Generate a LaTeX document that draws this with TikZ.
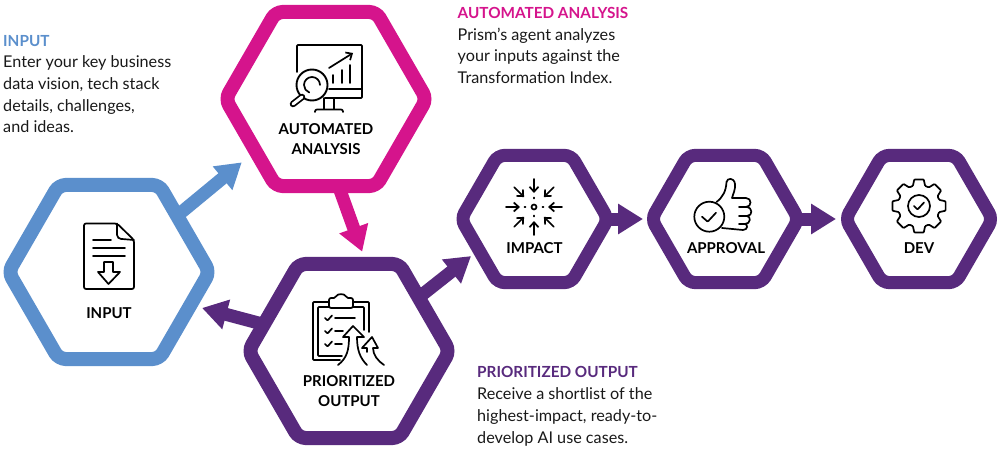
\documentclass[tikz,border=0pt]{standalone}
\usepackage{fontspec}
\setmainfont{Lato}
\usetikzlibrary{shapes.geometric,arrows.meta}
\definecolor{inblue}{HTML}{5B8FCC}
\definecolor{pinkish}{HTML}{D5148C}
\definecolor{grape}{HTML}{582A7D}
\tikzset{
	hexa/.style={regular polygon,regular polygon sides=6,draw,inner sep=0pt,outer sep=0pt,rounded corners=7pt},
	bighex/.style={hexa,line width=14pt,minimum size=201pt},
	smallhex/.style={hexa,line width=13pt,minimum size=147pt},
	flow/.style={line width=13pt,-{Triangle[length=25pt,width=29pt]}},
	hexlabel/.style={anchor=base,align=center,inner sep=0pt,font=\fontsize{15}{20}\selectfont\bfseries},
	note/.style={anchor=base west,align=left,inner sep=0pt,text=black!90,font=\fontsize{16.2}{21.7}\selectfont},
	icon/.style={line width=1.7pt,line cap=round,line join=round,rounded corners=0.8pt},
	barb/.style={icon,-{Straight Barb[length=5pt,width=9pt]}}
}
\newcommand{\notehead}[2]{{\fontsize{15.3}{21.7}\selectfont\bfseries\color{#1}#2}}
\begin{document}
\begin{tikzpicture}[x=1pt,y=-1pt]
	\useasboundingbox (0,0) rectangle (1000,449);

	\node[bighex,draw=inblue] (input) at (109,272) {};
	\node[bighex,draw=pinkish] (analysis) at (326,99) {};
	\node[bighex,draw=grape] (output) at (349,351) {};
	\node[smallhex,draw=grape] (impact) at (534.5,219) {};
	\node[smallhex,draw=grape] (approval) at (725,219) {};
	\node[smallhex,draw=grape] (dev) at (919,219) {};

	\draw[flow,inblue,shorten >=21pt] (input) -- ([shift={(-68,50)}]analysis.center);
	\draw[flow,pinkish,shorten >=13pt] ([xshift=12.5pt]analysis.south) -- ([xshift=17.6pt]output.north);
	\draw[flow,grape,shorten >=13.5pt] ([shift={(-83,-26)}]output.center) -- ([shift={(80,32.5)}]input.center);
	\draw[flow,grape,shorten >=11.4pt] ([shift={(69,-53)}]output.center) -- ([shift={(-54.5,30)}]impact.center);
	\draw[flow,grape,shorten >=8.5pt] (impact) -- (approval);
	\draw[flow,grape,shorten >=9.5pt] (approval) -- (dev);

	\node[hexlabel] (inputlabel) at (109,318) {INPUT};
	\node[hexlabel] (analysislabel) at (326,155) {AUTOMATED\\ANALYSIS};
	\node[hexlabel] (outputlabel) at (349,406) {PRIORITIZED\\OUTPUT};
	\node[hexlabel] (impactlabel) at (534.5,253) {IMPACT};
	\node[hexlabel] (approvallabel) at (726,253) {APPROVAL};
	\node[hexlabel] (devlabel) at (919,253) {DEV};

	\node[note] (inputnote) at (3,133) {\notehead{inblue}{INPUT}\\Enter your key business\\data vision, tech stack\\details, challenges,\\and ideas.};
	\node[note] (analysisnote) at (457.5,83.5) {\notehead{pinkish}{AUTOMATED ANALYSIS}\\Prism’s agent analyzes\\your inputs against the\\Transformation Index.};
	\node[note] (outputnote) at (477,443) {\notehead{grape}{PRIORITIZED OUTPUT}\\Receive a shortlist of the\\highest-impact, ready-to-\\develop AI use cases.};

	% document icon
	\draw[icon,rounded corners=2pt] (117,223.5) -- (84,223.5) -- (84,289) -- (134,289) -- (134,240) -- cycle;
	\draw[icon] (117,223.5) -- (117,234) .. controls (117,237) and (119,239) .. (122,239) -- (134,240);
	\draw[icon] (93,240) -- (111,240);
	\foreach \y in {248,256}
		\draw[icon] (93,\y) -- (125,\y);
	\draw[icon,rounded corners=0pt] (104,262) -- (113,262) -- (113,272) -- (120,272) -- (108.5,284) -- (98,272) -- (104,272) -- cycle;

	% monitor icon
	\draw[icon] (297,72) -- (297,45) -- (362,45) -- (362,98) -- (325,98);
	\draw[icon] (329,89) -- (362,89);
	\draw[icon] (324,98) -- (324,109) (334,98) -- (334,109);
	\draw[icon,rounded corners=2pt] (315,112) -- (315,109.5) -- (343,109.5) -- (343,112);
	\draw[icon] (333,83) -- (333,75) (342,83) -- (342,70) (350,83) -- (350,65);
	\draw[barb] (329,68) -- (353,53);
	\draw[line width=1.9pt] (312,85) circle[radius=15.5];
	\draw[icon] (320,85) arc[start angle=0,end angle=-250,radius=8];
	\draw[line width=6.5pt,line cap=round] (302,97) -- (293,104);
	\draw[line width=3pt,line cap=round,white] (302,97) -- (293,104);

	% clipboard icon
	\draw[icon] (340,360) -- (313,360) -- (313,302) -- (329,302) (353,302) -- (369,302) -- (369,332);
	\draw[icon] (342,356) -- (318,356) -- (318,307) -- (329,307) (353,307) -- (364,307) -- (364,330);
	\draw[icon,rounded corners=2pt] (329,308) -- (329,298) -- (336,298) .. controls (337,293.5) and (345,293.5) .. (346,298) -- (353,298) -- (353,308) -- cycle;
	\foreach \y/\xend in {318/355,331/343,344/342} {
		\draw[icon] (325,\y) -- (327.5,{\y+2.5}) -- (332,{\y-2.5});
		\draw[icon] (335,\y) -- (\xend,\y);
	}
	\draw[icon,rounded corners=0pt,fill=white] (338,365) .. controls (347,358) and (349,350) .. (349,337) -- (343,337) -- (353,326) -- (364,337) -- (357,337) .. controls (357,350) and (360,358) .. (367,365);
	\draw[icon,rounded corners=0pt,fill=white] (367,352) -- (367,348) -- (362,348) -- (372,337) -- (378,348) -- (373,348) .. controls (373,355) and (378,361) .. (384,365);

	% converging arrows icon
	\draw[icon] (534,207) circle[radius=2.5];
	\foreach \a in {0,90,180,270} {
		\draw[barb] (\a:28) ++(534,207) -- ++(\a+180:14);
		\draw[icon] (\a:8.5) ++(534,207) -- ++(\a:1);
	}
	\foreach \a in {45,135,225,315}
		\draw[barb] (\a:28) ++(534,207) -- ++(\a+180:14);

	% thumbs up icon
	\draw[icon] (709.3,216.7) circle[radius=15];
	\draw[icon] (702,216.7) -- (707.7,221.7) -- (716,212.7);
	\draw[icon,rounded corners=0pt] (716.5,202) .. controls (723,197) and (726,191) .. (726.5,182) .. controls (727,178) and (734,177) .. (735,184) .. controls (735.5,190) and (733,194) .. (732,198) -- (746,198) .. controls (752,198) and (752,207) .. (746,207) -- (739,207);
	\draw[icon,rounded corners=0pt] (746,207) .. controls (753,207) and (753,216) .. (747,216) -- (739,216);
	\draw[icon,rounded corners=0pt] (747,216) .. controls (751,216) and (751,224) .. (745,224) -- (739,224);
	\draw[icon,rounded corners=0pt] (745,224) .. controls (748,224) and (748,230) .. (743,230) -- (722,228);

	% gear icon
	\begin{scope}[shift={(919,206)}]
		\draw[icon] (-17:21) \foreach \a in {0,45,...,315} { -- (\a-17:21) -- (\a-10:27) -- (\a+10:27) -- (\a+17:21) } -- cycle;
		\draw[icon] (0,0) circle[radius=11];
		\draw[icon] (-5,0) -- (-1.5,3.5) -- (5,-3.5);
	\end{scope}
\end{tikzpicture}
\end{document}
